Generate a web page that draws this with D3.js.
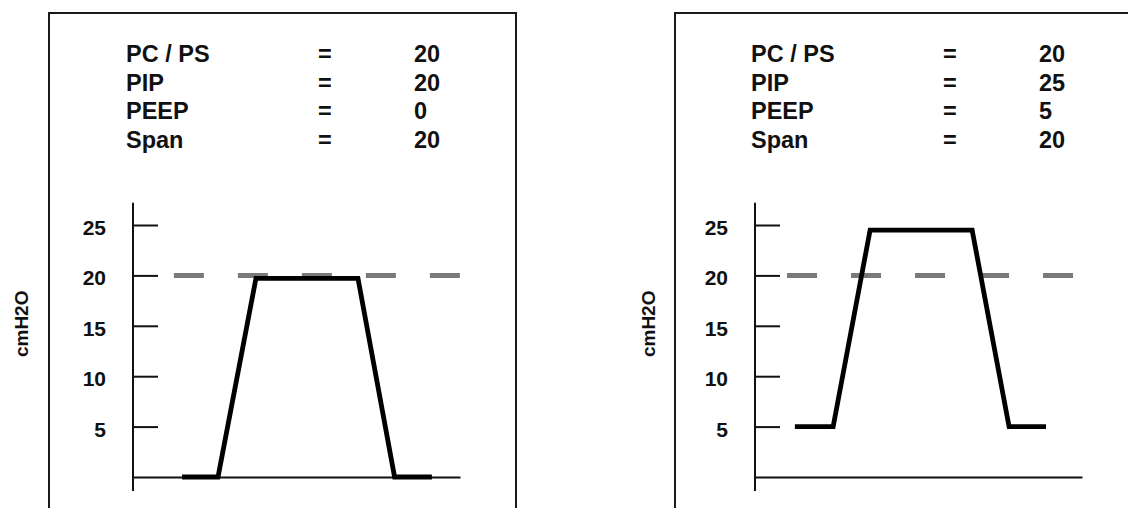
<!DOCTYPE html>
<html>
<head>
<meta charset="utf-8">
<script src="https://cdn.jsdelivr.net/npm/d3@7"></script>
<style>
  html, body { margin: 0; padding: 0; background: #fff; }
  svg { display: block; }
  text { font-family: "Liberation Sans", Arial, Helvetica, sans-serif; font-weight: bold; fill: #111; }
</style>
</head>
<body>
<svg id="chart" width="1128" height="508"></svg>
<script>
// ---- data ----
const paramLabels = ["PC / PS", "PIP", "PEEP", "Span"];
const leftValues = ["20", "20", "0", "20"];
const rightValues = ["20", "25", "5", "20"];
const yTicks = [5, 10, 15, 20, 25];
const yAxisTitle = "cmH2O";
const referenceLevel = 20;           // dashed line level (cmH2O)

const leftTime = [1.5, 2.6, 3.76, 6.88, 8.0, 9.14];
const leftPressure = [0, 0, 19.7, 19.7, 0, 0];
const rightTime = [1.22, 2.39, 3.52, 6.64, 7.77, 8.9];
const rightPressure = [5, 5, 24.5, 24.5, 5, 5];

const leftDashSpan = [1.25, 10];
const rightDashSpan = [0.98, 9.8];

// ---- layout ----
const svg = d3.select("#chart");
const panels = [
  { boxX: 49, axisX: 133, labelX: 126, eqX: 318, valX: 414, titleX: 21,
    values: leftValues, time: leftTime, pressure: leftPressure, dash: leftDashSpan },
  { boxX: 675, axisX: 755, labelX: 751, eqX: 943, valX: 1039, titleX: 648,
    values: rightValues, time: rightTime, pressure: rightPressure, dash: rightDashSpan }
];

panels.forEach(p => {
  const g = svg.append("g");

  // frame
  g.append("rect")
    .attr("x", p.boxX).attr("y", 13)
    .attr("width", 467).attr("height", 540)
    .attr("fill", "none").attr("stroke", "#1a1a1a").attr("stroke-width", 2);

  // parameter text block
  paramLabels.forEach((lab, i) => {
    const yy = 62 + i * 28.5;
    g.append("text").attr("x", p.labelX).attr("y", yy).style("font-size", "23.5px").text(lab);
    g.append("text").attr("x", p.eqX).attr("y", yy).style("font-size", "23.5px").text("=");
    g.append("text").attr("x", p.valX).attr("y", yy).style("font-size", "23.5px").text(p.values[i]);
  });

  const x = d3.scaleLinear().domain([0, 10]).range([p.axisX, p.axisX + 327]);
  const y = d3.scaleLinear().domain([0, 25]).range([477, 225]);

  // y axis
  const yAxis = d3.axisLeft(y).tickValues(yTicks).tickSize(-25).tickPadding(27).tickSizeOuter(0);
  const ga = g.append("g").attr("transform", `translate(${p.axisX},0)`).call(yAxis);
  ga.select(".domain").remove();
  ga.selectAll(".tick line").attr("stroke", "#111").attr("stroke-width", 2);
  ga.selectAll(".tick text")
    .attr("dy", "0.45em")
    .style("font-size", "21px")
    .style("font-family", "'Liberation Sans', Arial, sans-serif")
    .style("font-weight", "bold")
    .attr("fill", "#111");
  g.append("line")
    .attr("x1", p.axisX).attr("x2", p.axisX)
    .attr("y1", y(27.2)).attr("y2", y(-1.4))
    .attr("stroke", "#111").attr("stroke-width", 2);

  // x axis (baseline)
  const xAxis = d3.axisBottom(x).ticks(0).tickSizeOuter(0);
  const gx = g.append("g").attr("transform", `translate(0,${y(0)})`).call(xAxis);
  gx.select(".domain").attr("stroke", "#111").attr("stroke-width", 2);
  gx.selectAll(".tick").remove();

  // y-axis title
  g.append("text")
    .attr("transform", `translate(${p.titleX + 7},${y(15) - 2}) rotate(-90)`)
    .attr("text-anchor", "middle")
    .style("font-size", "19px")
    .text(yAxisTitle);

  // dashed reference line
  g.append("line")
    .attr("x1", x(p.dash[0])).attr("x2", x(p.dash[1]))
    .attr("y1", y(referenceLevel)).attr("y2", y(referenceLevel))
    .attr("stroke", "#7a7a7a").attr("stroke-width", 5)
    .attr("stroke-dasharray", "30,34");

  // pressure waveform
  const line = d3.line().x((d, i) => x(p.time[i])).y(d => y(d));
  g.append("path")
    .datum(p.pressure)
    .attr("d", line)
    .attr("fill", "none")
    .attr("stroke", "#000")
    .attr("stroke-width", 4.8)
    .attr("stroke-linejoin", "miter");
});
</script>
</body>
</html>
